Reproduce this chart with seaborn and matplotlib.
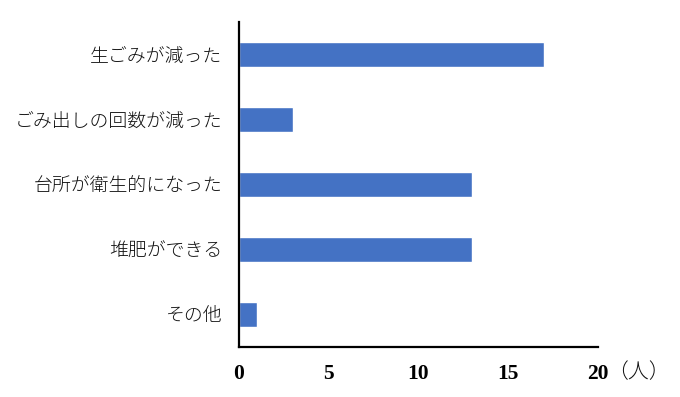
import pandas as pd
import matplotlib
matplotlib.use('Agg')
import matplotlib.pyplot as plt
import seaborn as sns

# dados
categorias = ['生ごみが減った', 'ごみ出しの回数が減った', '台所が衛生的になった', '堆肥ができる', 'その他']
pessoas = [17, 3, 13, 13, 1]

df = pd.DataFrame({'categoria': categorias, 'pessoas': pessoas})

sns.set_style('white')
plt.rcParams['font.family'] = ['Noto Sans CJK JP', 'DejaVu Sans']

fig = plt.figure(figsize=(6.8, 3.97), dpi=100)
ax = fig.add_axes([239 / 680, 50 / 397, 359 / 680, 325 / 397])

sns.barplot(data=df, x='pessoas', y='categoria', orient='h', color='#4472C4',
            width=0.37, saturation=1, ax=ax)

ax.set_xlim(0, 20)
ax.set_ylim(4.5, -0.5)
ax.set_xticks([0, 5, 10, 15, 20])
ax.set_xlabel('')
ax.set_ylabel('')

for s in ['top', 'right']:
    ax.spines[s].set_visible(False)
for s in ['left', 'bottom']:
    ax.spines[s].set_color('black')
    ax.spines[s].set_linewidth(1.6)

ax.tick_params(axis='x', length=0, pad=12, labelcolor='black')
ax.tick_params(axis='y', length=0, pad=12)
for lbl in ax.get_xticklabels():
    lbl.set_family('Liberation Serif')
    lbl.set_fontweight('bold')
    lbl.set_fontsize(15.5)
for lbl in ax.get_yticklabels():
    lbl.set_fontsize(13.6)
    lbl.set_fontweight('light')
    lbl.set_color('#111111')

ax.annotate('（人）', xy=(20, 0), xycoords=('data', 'axes fraction'),
            xytext=(6.5, -18), textcoords='offset points',
            ha='left', va='center', fontsize=15, fontweight='light', color='#111111')

fig.savefig('out.png', dpi=100)
